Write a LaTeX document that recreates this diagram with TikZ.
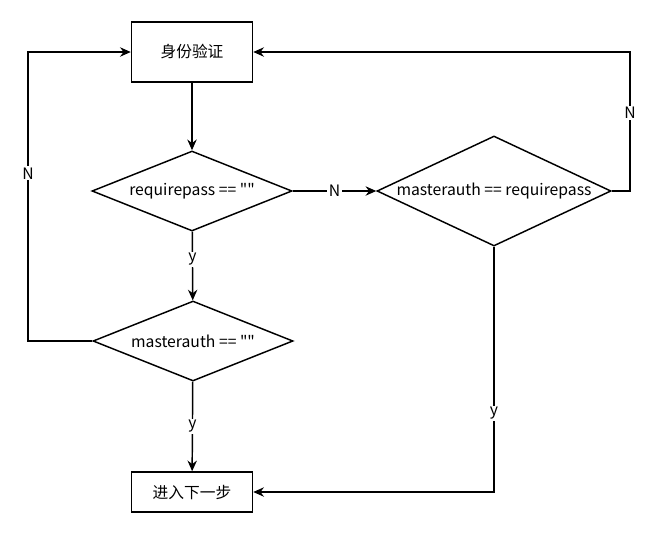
\documentclass[tikz,border=0pt]{standalone}
\usepackage{fontspec}
\setmainfont{Noto Sans CJK SC}[Ligatures=TeXOff]
\usetikzlibrary{shapes.geometric,arrows.meta}
\tikzset{
  box/.style={draw, line width=1.1pt, minimum width=90.75pt, minimum height=45pt, inner sep=0pt},
  dia/.style={draw, diamond, line width=1.1pt, inner sep=0pt},
  arr/.style={line width=1.1pt, -{Stealth[length=8pt,width=7pt]}},
  lbl/.style={fill=white, inner sep=1pt},
}
\begin{document}
\begin{tikzpicture}[x=0.75pt, y=-0.75pt, font=\fontsize{11.8}{14}\selectfont]
  \useasboundingbox (0,0) rectangle (659,540);
  \node[box] (auth) at (192,52) {身份验证};
  \node[dia, minimum width=150pt, minimum height=60pt, label=center:{requirepass == ""}] (d1) at (192,191) {};
  \node[dia, minimum width=175.5pt, minimum height=82.5pt, label=center:{masterauth == requirepass}] (d2) at (494,191) {};
  \node[dia, minimum width=150pt, minimum height=60pt, label=center:{masterauth == ""}] (d3) at (193,341) {};
  \node[box, minimum height=30pt] (next) at (192,492) {进入下一步};
  \coordinate (cL) at (28,52); \coordinate (cR) at (630,52);
  \draw[arr] (auth) -- (d1);
  \draw[arr] (d1) -- node[lbl, pos=0.4] {y} (d3);
  \draw[arr] (d1) -- node[lbl] {N} (d2);
  \draw[arr] (d3) -- node[lbl] {y} (next);
  \draw[arr] (d3.west) -| node[lbl, pos=0.79] {N} (cL) -- (auth.west);
  \draw[arr] (d2.east) -| node[lbl, pos=0.78] {N} (cR) -- (auth.east);
  \draw[arr] (d2.south) |- node[lbl, pos=0.34] {y} (next.east);
\end{tikzpicture}
\end{document}
